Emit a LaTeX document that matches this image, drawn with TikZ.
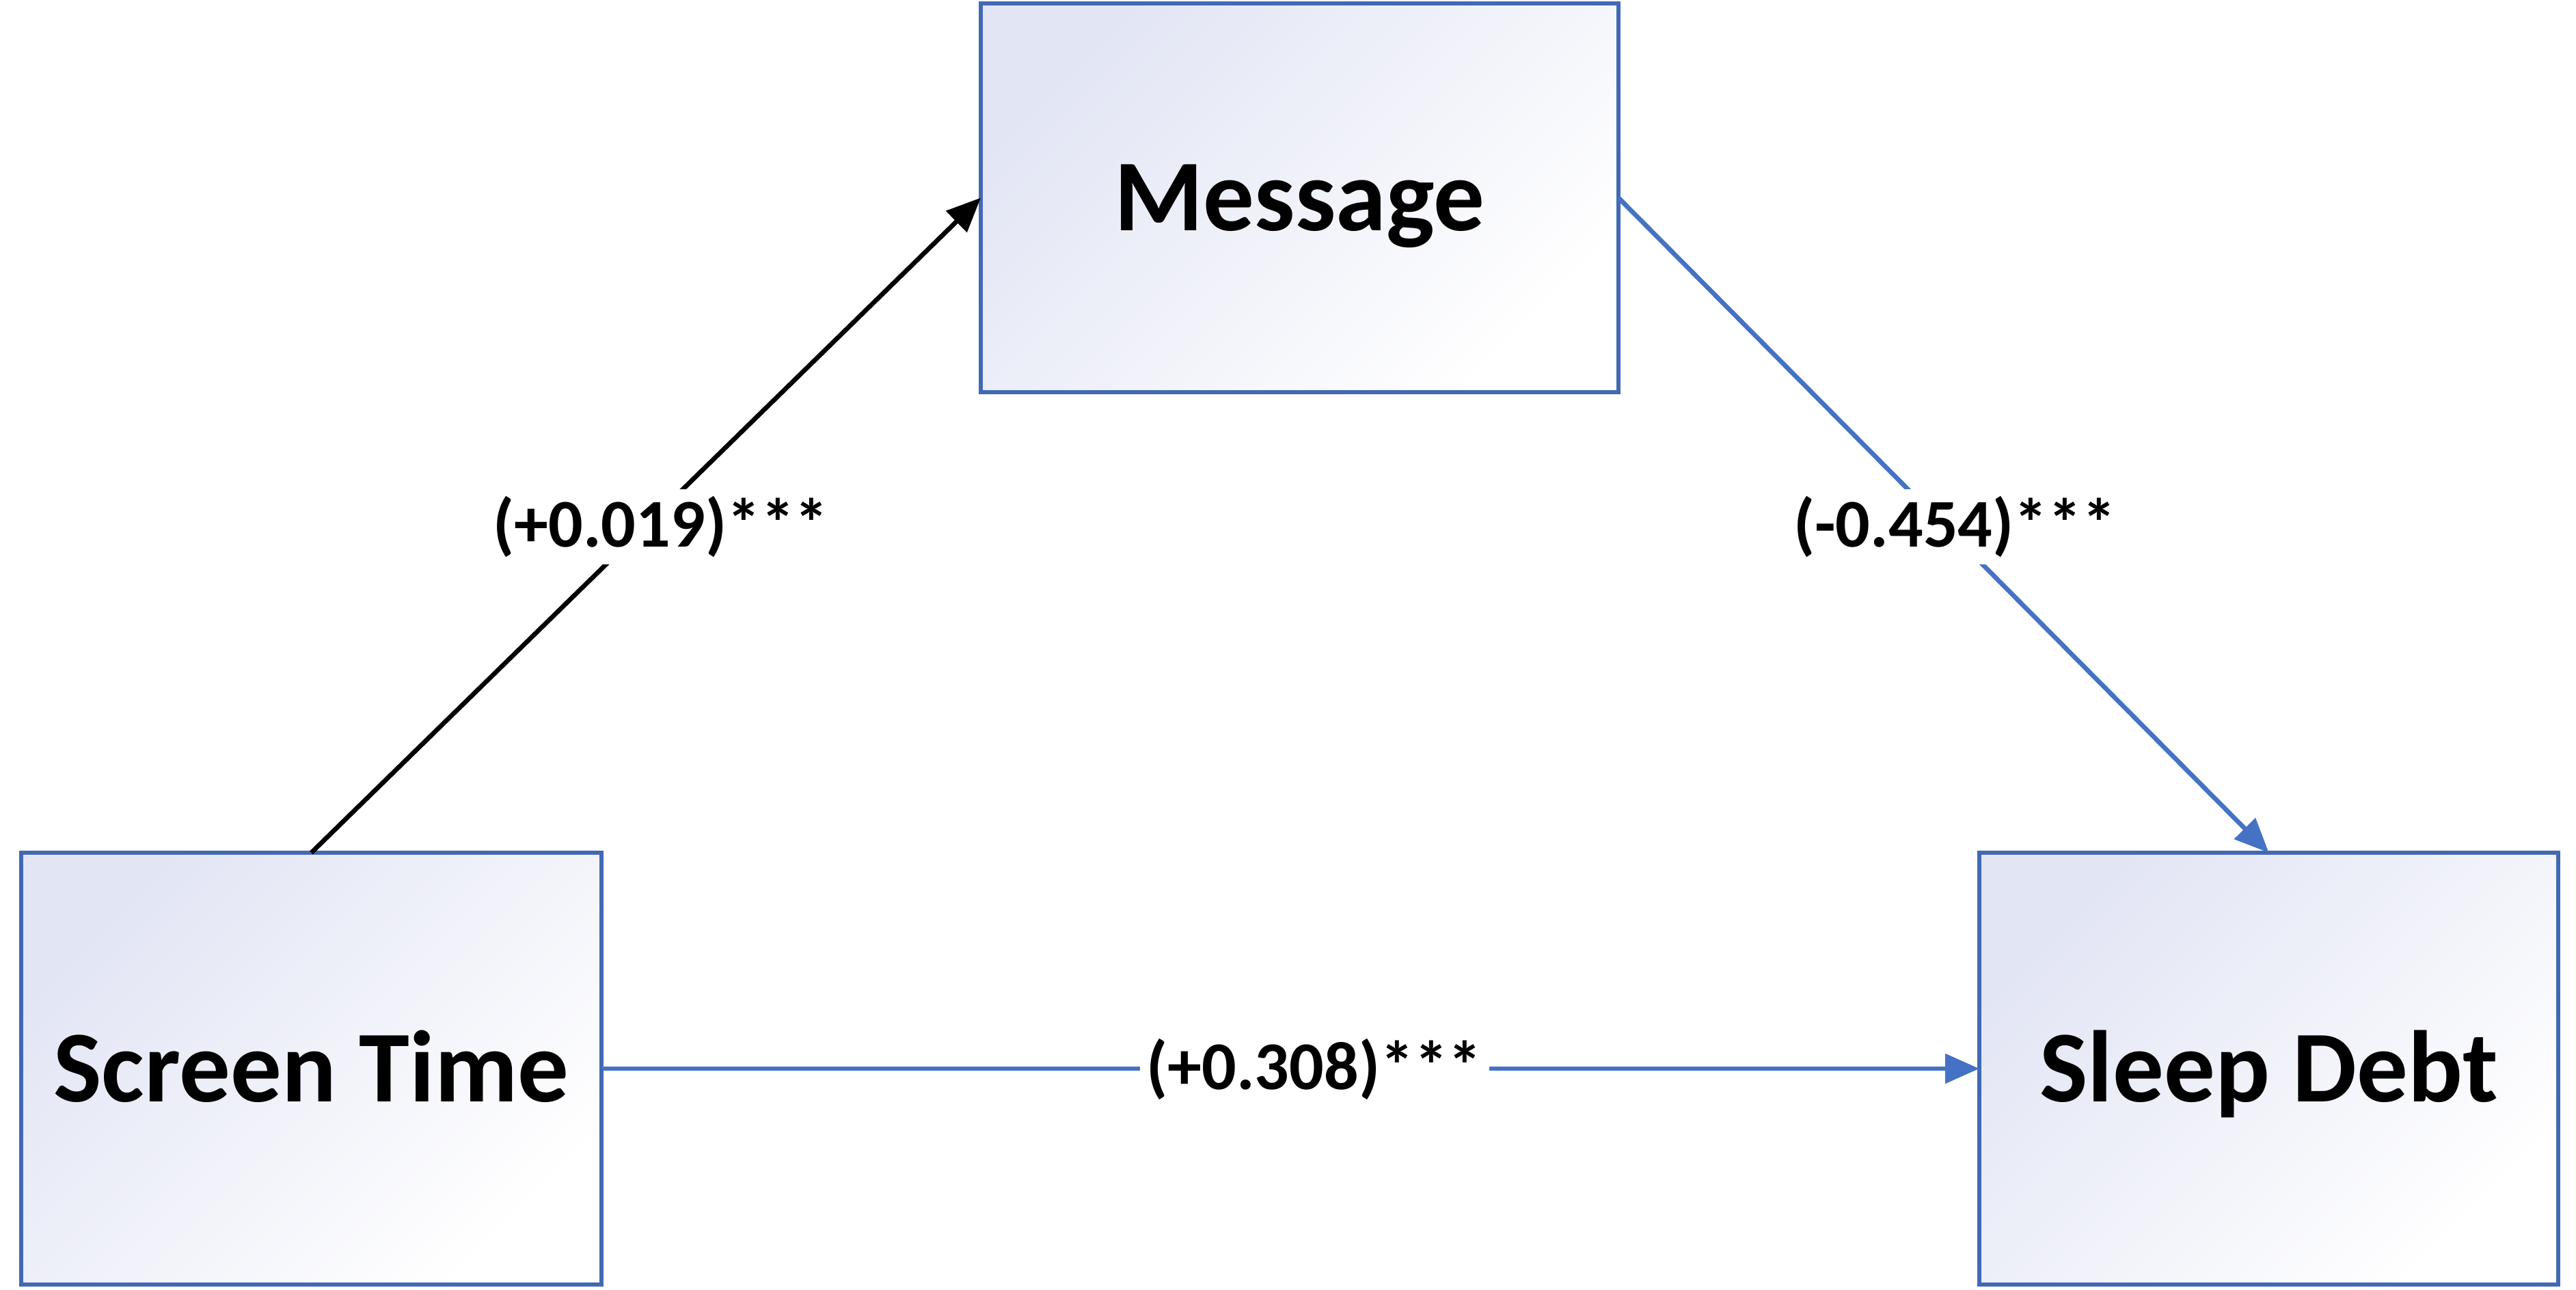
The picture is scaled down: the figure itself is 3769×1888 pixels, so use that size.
\documentclass[tikz,border=0pt]{standalone}
\usepackage{fontspec}
\setmainfont{Carlito}
\usetikzlibrary{arrows.meta}
\definecolor{boxline}{RGB}{65,105,180}
\definecolor{lineblue}{RGB}{68,114,196}
\definecolor{boxtop}{RGB}{226,229,244}
\tikzset{
  varbox/.style={draw=boxline, line width=1.3pt, rectangle, outer sep=0pt, inner sep=0pt,
    top color=boxtop, middle color=white!88!boxtop, bottom color=white, shading angle=45,
    font=\bfseries\fontsize{29.8}{34}\selectfont, text height=19.2pt, text depth=0pt, align=center},
  lbl/.style={fill=white, inner sep=2pt, font=\bfseries\fontsize{20}{24}\selectfont},
  conn/.style={line width=1.35pt, -{Triangle[length=10pt, width=8.5pt]}},
}
\begin{document}
\begin{tikzpicture}[x=0.2pt, y=-0.2pt]
\useasboundingbox (0,0) rectangle (3769,1888);
\node[varbox, minimum width=186.6pt, minimum height=113.8pt] (msg) at (1901.5,289.5) {Message};
\node[varbox, minimum width=169.8pt, minimum height=126.4pt] (st) at (455.5,1564) {Screen Time};
\node[varbox, minimum width=169.4pt, minimum height=126.4pt] (sd) at (3319.5,1564) {Sleep Debt};
\draw[conn, black] (st.north) -- (msg.west);
\draw[conn, lineblue] (msg.east) -- (sd.north);
\draw[conn, lineblue] (st.east) -- (sd.west);
\node[lbl] (l1) at (967,771) {(+0.019)***};
\node[lbl] (l2) at (2860,771) {(-0.454)***};
\node[lbl] (l3) at (1923,1565) {(+0.308)***};
\end{tikzpicture}
\end{document}
